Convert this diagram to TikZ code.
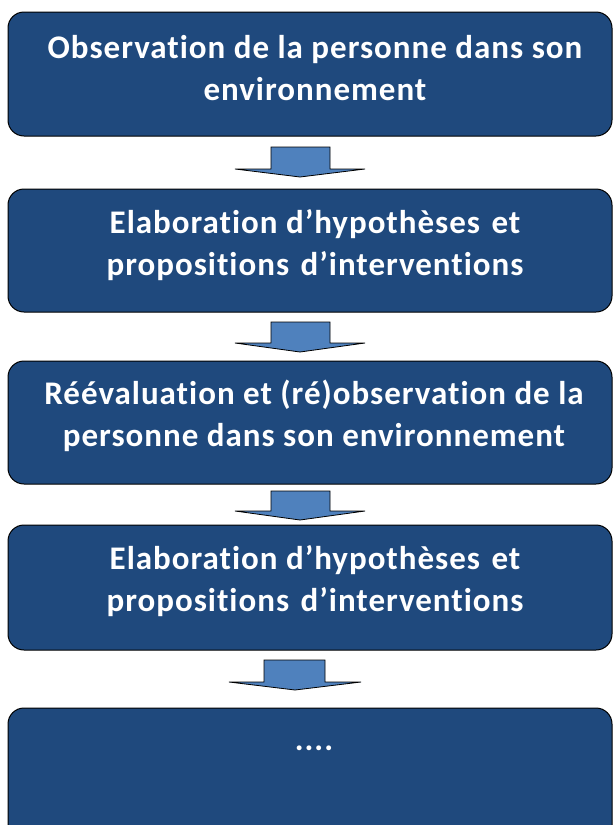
\documentclass[tikz,border=0pt]{standalone}
\usepackage{fontspec}
\setmainfont[Ligatures={NoCommon},LetterSpace=3]{Carlito}
\definecolor{boxblue}{HTML}{1F497D}
\definecolor{arrowblue}{HTML}{4F81BD}
\begin{document}
\begin{tikzpicture}[x=1pt,y=-1pt,
  stepbox/.style={draw=black,line width=1pt,fill=boxblue,rounded corners=16pt},
  steptext/.style={text=white,font=\bfseries\fontsize{33}{41.5}\selectfont,align=center,inner sep=0pt},
  downarrow/.style={draw=black,line width=0.8pt,fill=arrowblue,line join=miter}]
\useasboundingbox (0,0) rectangle (613,825);
\clip (0,0) rectangle (613,825);
% boxes
\draw[stepbox] (8,12) rectangle (612,136);
\draw[stepbox] (8,189) rectangle (612,312);
\draw[stepbox] (8,361) rectangle (612,484);
\draw[stepbox] (8,525) rectangle (612,650);
\draw[stepbox] (8,708) rectangle (612,860);
% texts
\node[steptext] (t1) at (315,68) {Observation de la personne dans son\\environnement};
\node[steptext] (t2) at (315,245) {Elaboration d’hypothèses\hspace{3pt} et\\propositions\hspace{3pt} d’interventions};
\node[steptext] (t3) at (314,416) {Réévaluation et (ré)observation de la\\personne dans son environnement};
\node[steptext] (t4) at (315,581) {Elaboration d’hypothèses\hspace{3pt} et\\propositions\hspace{3pt} d’interventions};
\node[steptext] (t5) at (314,748) {....};
% arrows
\draw[downarrow] (271,147) -- (330,147) -- (330,169) -- (365,169) -- (300,177) -- (235,169) -- (271,169) -- cycle;
\draw[downarrow] (271,322) -- (330,322) -- (330,343) -- (365,343) -- (300,352) -- (235,343) -- (271,343) -- cycle;
\draw[downarrow] (271,491) -- (330,491) -- (330,511) -- (365,511) -- (300,520) -- (235,511) -- (271,511) -- cycle;
\draw[downarrow] (264,660) -- (325,660) -- (325,682) -- (361,682) -- (295,690) -- (229,682) -- (264,682) -- cycle;
\end{tikzpicture}
\end{document}
